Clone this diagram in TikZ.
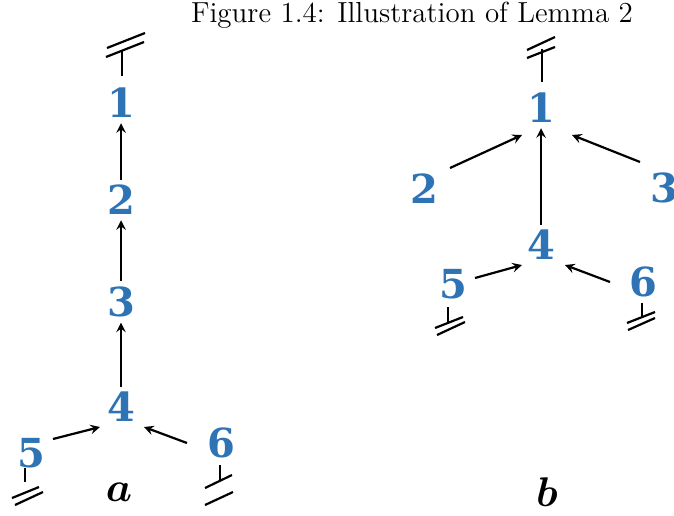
\documentclass[tikz,border=0pt]{standalone}
\usepackage{amsmath, amssymb}
\usepackage{fontspec}
\newfontfamily\digitfont{DejaVu Serif}
\usetikzlibrary{calc}
\definecolor{nodeblue}{HTML}{2E74B5}

\begin{document}
\begin{tikzpicture}[x=0.5pt, y=-0.5pt, >=stealth,
        num/.style={font=\digitfont\bfseries\fontsize{20}{24}\selectfont, text=nodeblue, inner sep=2.5pt},
        lbl/.style={font=\fontsize{22}{26}\selectfont},
        edge/.style={->, line width=1.1pt},
        gnd/.style={line width=1.1pt}]
        \useasboundingbox (0,0) rectangle (674,515);

        % Title
        \node[font=\fontsize{14.5}{17}\selectfont] (title) at (412,15) {Figure 1.4: Illustration of Lemma 2};

        % Tree a
        \node[num] (a1) at (121,103) {1};
        \node[num] (a2) at (121,200) {2};
        \node[num] (a3) at (121,302) {3};
        \node[num] (a4) at (121,407) {4};
        \node[num] (a5) at (31,453) {5};
        \node[num] (a6) at (221,443) {6};
        \node[lbl] (la) at (119,492) {$\boldsymbol{a}$};

        \draw[edge] (a2) -- (a1);
        \draw[edge] (a3) -- (a2);
        \draw[edge] (a4) -- (a3);
        \draw[edge] (53,439) -- (100,427);
        \draw[edge] (187,443) -- (144,427);

        % Tree b
        \node[num] (b1) at (541,108) {1};
        \node[num] (b2) at (424,189) {2};
        \node[num] (b3) at (664,188) {3};
        \node[num] (b4) at (541,245) {4};
        \node[num] (b5) at (453,284) {5};
        \node[num] (b6) at (643,282) {6};
        \node[lbl] (lb) at (547,492) {$\boldsymbol{b}$};

        \draw[edge] (450,168) -- (522,135);
        \draw[edge] (640,162) -- (572,135);
        \draw[edge] (b4) -- (b1);
        \draw[edge] (475,278) -- (522,265);
        \draw[edge] (610,282) -- (565,265);

        % Ground marks
        \coordinate (ga1) at (122,50);
        \draw[gnd] (122,76) -- (ga1);
        \draw[gnd] (106,57) -- (144,42);
        \draw[gnd] (107,48) -- (145,33);

        \coordinate (ga5) at (25,482);
        \draw[gnd] (25,468) -- (ga5);
        \draw[gnd] (12,498) -- (39,487);
        \draw[gnd] (15,505) -- (43,492);

        \coordinate (ga6) at (220,481);
        \draw[gnd] (220,465) -- (ga6);
        \draw[gnd] (205,488) -- (232,475);
        \draw[gnd] (205,505) -- (233,492);

        \coordinate (gb1) at (542,49);
        \draw[gnd] (542,82) -- (gb1);
        \draw[gnd] (527,58) -- (555,47);
        \draw[gnd] (527,50) -- (555,37);

        \coordinate (gb5) at (448,323);
        \draw[gnd] (448,307) -- (gb5);
        \draw[gnd] (435,328) -- (463,317);
        \draw[gnd] (437,335) -- (465,322);

        \coordinate (gb6) at (642,317);
        \draw[gnd] (642,303) -- (gb6);
        \draw[gnd] (627,323) -- (655,312);
        \draw[gnd] (628,330) -- (655,318);
    \end{tikzpicture}
\end{document}
